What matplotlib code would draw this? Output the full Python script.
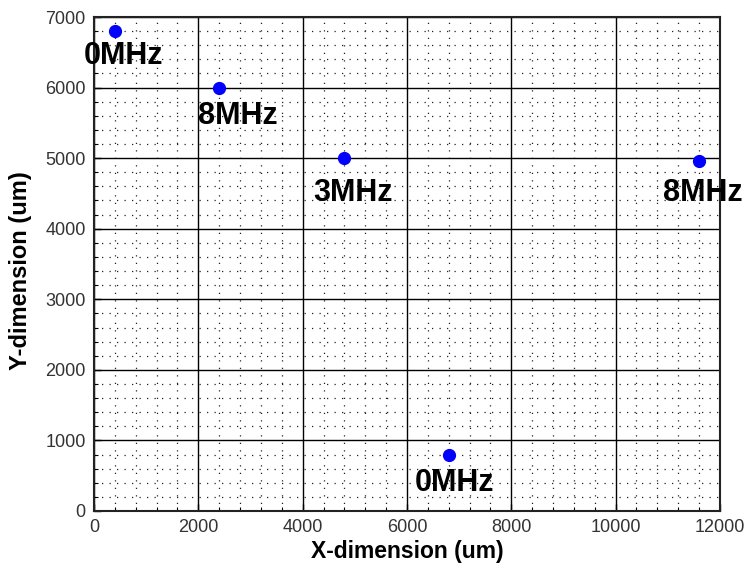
import matplotlib
matplotlib.use("Agg")
import matplotlib.pyplot as plt
from matplotlib.ticker import MultipleLocator

plt.rcParams['font.family'] = ['Liberation Sans', 'DejaVu Sans']

# Data
x_um = [400, 2400, 4800, 11600, 6800]
y_um = [6800, 6000, 5000, 4960, 800]
labels = ["0MHz", "8MHz", "3MHz", "8MHz", "0MHz"]
label_x = [-200, 2000, 4200, 10900, 6150]
label_y = [6450, 5600, 4500, 4500, 400]

x_ticks = [0, 2000, 4000, 6000, 8000, 10000, 12000]
y_ticks = [0, 1000, 2000, 3000, 4000, 5000, 6000, 7000]

fig = plt.figure(figsize=(7.47, 5.67), dpi=100)
ax = fig.add_axes([0.1258, 0.0988, 0.8380, 0.8712])

ax.plot(x_um, y_um, 'o', color='#0000FF', markersize=8.5, zorder=5, clip_on=False)
for lx, ly, t in zip(label_x, label_y, labels):
    ax.text(lx, ly, t, fontsize=22, fontweight='bold', ha='left', va='center',
            color='black', zorder=6, clip_on=False)

ax.set_xlim(0, 12000)
ax.set_ylim(0, 7000)
ax.set_xticks(x_ticks)
ax.set_yticks(y_ticks)
ax.xaxis.set_minor_locator(MultipleLocator(400))
ax.yaxis.set_minor_locator(MultipleLocator(200))

ax.grid(which='major', color='black', linestyle='-', linewidth=1.0, zorder=1)
ax.grid(which='minor', color='#222222', linestyle=(0, (1, 5)), linewidth=0.9, zorder=1)
ax.set_axisbelow(True)

ax.tick_params(which='both', direction='in', top=False, right=False,
               colors='black', labelcolor='#333333')
ax.tick_params(which='major', length=5, width=1.0, labelsize=13, pad=6)
ax.tick_params(which='minor', length=3, width=0.8)

for s in ax.spines.values():
    s.set_linewidth(1.5)
    s.set_color('#222222')

ax.set_xlabel("X-dimension (um)", fontsize=16.5, fontweight='bold', labelpad=3)
ax.set_ylabel("Y-dimension (um)", fontsize=17, fontweight='bold')
ax.yaxis.set_label_coords(-0.099, 0.486)

fig.savefig("out.png", dpi=100)
